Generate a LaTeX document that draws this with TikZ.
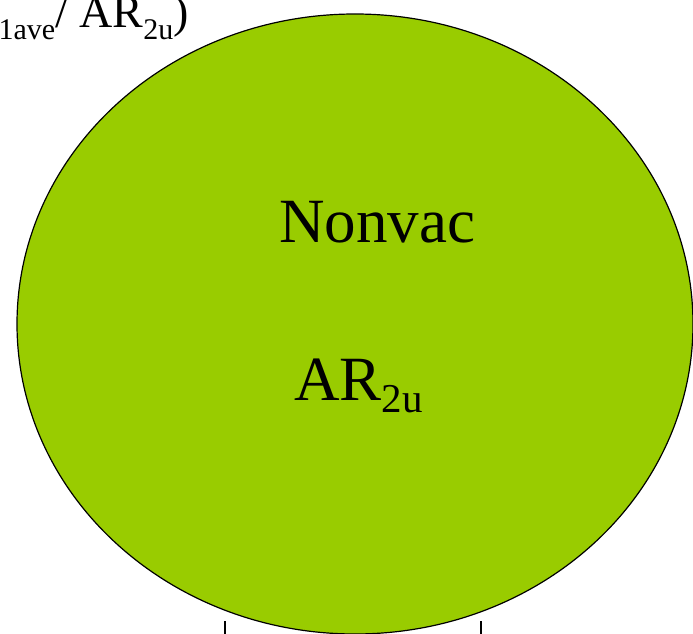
\documentclass[tikz,border=0pt]{standalone}
\usepackage{fontspec}
\setmainfont{Liberation Serif}
\newcommand{\topsub}[1]{\raisebox{-12pt}{\fontsize{30pt}{30pt}\selectfont #1}}
\tikzset{
  blob/.style={draw=black, line width=1.2pt, fill={rgb,255:red,153;green,204;blue,0}},
  big/.style={font=\fontsize{63pt}{63pt}\selectfont, inner sep=0pt},
  toplabel/.style={font=\fontsize{46pt}{46pt}\selectfont, inner sep=0pt},
  tickline/.style={draw=black, line width=1.2pt}
}
\begin{document}
\begin{tikzpicture}[x=1pt,y=-1pt]
\useasboundingbox (0,0) rectangle (693,634);
\clip (0,0) rectangle (693,634);
\fill[white] (0,0) rectangle (693,634);
% big ellipse
\path[blob] (355,324) ellipse [x radius=338, y radius=310];
% labels
\node[big, anchor=base west] (nonvac) at (279,242) {Nonvac};
\node[big, anchor=base west] (ar) at (294,400) {AR\raisebox{-12pt}{\fontsize{41pt}{41pt}\selectfont 2u}};
% top-left label (cut at the picture's edge, as in the reference)
\node[toplabel, anchor=base east] (tl) at (189,28) {\topsub{1ave}/ AR\topsub{2u})};
% ticks
\coordinate (t1a) at (225,621); \coordinate (t1b) at (225,634);
\coordinate (t2a) at (481,621); \coordinate (t2b) at (481,634);
\draw[tickline] (t1a) -- (t1b);
\draw[tickline] (t2a) -- (t2b);
\end{tikzpicture}
\end{document}
